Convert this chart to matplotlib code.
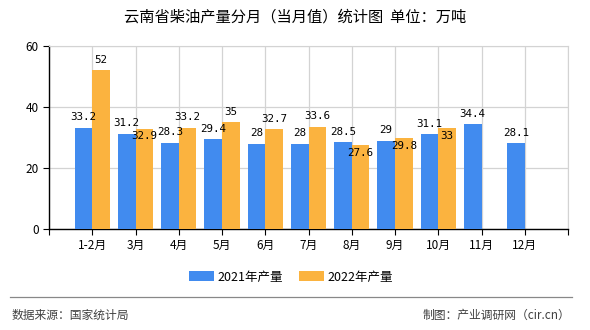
import matplotlib

matplotlib.use("Agg")
import matplotlib.pyplot as plt
import numpy as np

plt.rcParams["font.family"] = ["Noto Sans CJK SC", "DejaVu Sans"]

months = ["1-2月", "3月", "4月", "5月", "6月", "7月", "8月", "9月", "10月", "11月", "12月"]
prod_2021 = [33.2, 31.2, 28.3, 29.4, 28, 28, 28.5, 29, 31.1, 34.4, 28.1]
prod_2022 = [52, 32.9, 33.2, 35, 32.7, 33.6, 27.6, 29.8, 33, None, None]
series_names = ["2021年产量", "2022年产量"]

BLUE = "#418bef"
ORANGE = "#fbb33f"
GRID = "#d3d3d3"

fig = plt.figure(figsize=(5.9, 3.3), dpi=100)
ax = fig.add_axes([49 / 590, 101 / 330, 519 / 590, 183 / 330])

x = np.arange(len(months))
w = 0.41
y21 = np.array(prod_2021, dtype=float)
y22 = np.array([np.nan if v is None else v for v in prod_2022], dtype=float)
b1 = ax.bar(x, y21, width=-w, align="edge", color=BLUE, label=series_names[0], zorder=3)
b2 = ax.bar(x, y22, width=w, align="edge", color=ORANGE, label=series_names[1], zorder=3)

# value labels (a few orange ones get pushed down onto the bar, like the original)
lab_kw = dict(ha="center", fontsize=7.8, family="DejaVu Sans Mono", zorder=5)
for i, v in enumerate(y21):
    ax.annotate(f"{v:g}", (x[i] - w / 2, v), xytext=(0, 4), textcoords="offset points",
                va="bottom", **lab_kw)
pushed_down = {1, 6, 7, 8}
for i, v in enumerate(y22):
    if np.isnan(v):
        continue
    dy = -2 if i in pushed_down else 4
    va = "top" if i in pushed_down else "bottom"
    ax.annotate(f"{v:g}", (x[i] + w / 2, v), xytext=(0, dy), textcoords="offset points",
                va=va, **lab_kw)

ax.set_xlim(-1, len(months))
ax.set_ylim(0, 60)
ax.set_yticks([0, 20, 40, 60])
ax.set_xticks(np.arange(-1, len(months) + 1))
ax.set_xticklabels([""] + months + [""], fontsize=8.5)
ax.tick_params(axis="y", labelsize=8.5, length=4, color="black")
ax.tick_params(axis="x", length=4, color="black", pad=3)

ax.grid(True, color=GRID, linewidth=0.9, zorder=0)
ax.set_axisbelow(True)
for side in ("top", "right"):
    ax.spines[side].set_color(GRID)
for side in ("left", "bottom"):
    ax.spines[side].set_color("black")
    ax.spines[side].set_linewidth(1.0)

fig.text(0.5, 1 - 17 / 330, "云南省柴油产量分月（当月值）统计图  单位：万吨",
         ha="center", va="center", fontsize=11)

fig.legend(handles=[b1, b2], labels=series_names, loc="center", bbox_to_anchor=(291 / 590, 1 - 277 / 330),
           ncol=2, frameon=False, fontsize=9, handlelength=2.0, handleheight=0.8,
           handletextpad=0.3, columnspacing=1.3)

fig.add_artist(plt.Line2D([10 / 590, 572 / 590], [1 - 297 / 330] * 2, color="#888888", linewidth=0.9))
fig.text(12 / 590, 1 - 315 / 330, "数据来源：国家统计局", ha="left", va="center", fontsize=8.5, color="#404040")
fig.text(570 / 590, 1 - 315 / 330, "制图：产业调研网（cir.cn）", ha="right", va="center", fontsize=8.5, color="#404040")

fig.savefig("out.png", dpi=100)
